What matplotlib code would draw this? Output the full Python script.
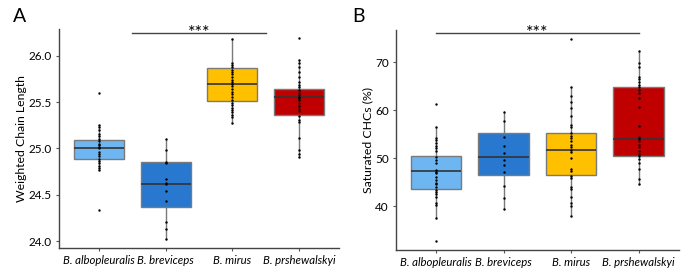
import matplotlib
matplotlib.use("Agg")
import matplotlib.pyplot as plt

plt.rcParams['font.family'] = ['Lato', 'DejaVu Sans']

species = ["B. albopleuralis", "B. breviceps", "B. mirus", "B. prshewalskyi"]
colors = ["#6DB6F2", "#2878CF", "#FFC000", "#C00000"]

# panel A: weighted chain length, individual samples
wcl_albo = [25.60, 25.25, 25.23, 25.20, 25.16, 25.13, 25.10, 25.08, 25.05, 25.04, 25.02,
            25.00, 24.96, 24.94, 24.92, 24.89, 24.86, 24.84, 24.81, 24.79, 24.77, 24.34]
wcl_brev = [25.10, 24.98, 24.85, 24.84, 24.67, 24.63, 24.62, 24.54, 24.43, 24.21, 24.13, 24.02]
wcl_mirus = [26.18, 25.92, 25.90, 25.88, 25.85, 25.83, 25.80, 25.77, 25.74, 25.72, 25.70, 25.67,
             25.64, 25.61, 25.59, 25.56, 25.52, 25.49, 25.47, 25.44, 25.41, 25.39, 25.36, 25.34, 25.28]
wcl_prsh = [26.19, 25.96, 25.92, 25.88, 25.83, 25.77, 25.72, 25.68, 25.66, 25.63, 25.60, 25.58,
            25.56, 25.54, 25.52, 25.49, 25.46, 25.43, 25.40, 25.35, 25.31, 25.29, 25.11, 24.98,
            24.94, 24.91]
# box summaries: whisker low, q1, median, q3, whisker high
wcl_box = [
    [24.77, 24.89, 25.01, 25.09, 25.25],
    [24.02, 24.37, 24.62, 24.85, 25.10],
    [25.28, 25.51, 25.70, 25.87, 26.18],
    [24.91, 25.36, 25.56, 25.64, 25.96],
]

# panel B: saturated CHCs (%)
sat_albo = [61.3, 56.6, 54.2, 53.8, 53.1, 52.6, 52.1, 51.6, 50.3, 49.7, 49.1, 47.6, 47.2, 46.9,
            46.2, 45.5, 44.9, 44.7, 44.1, 43.4, 42.9, 42.6, 42.0, 40.6, 40.3, 37.6, 32.8]
sat_brev = [59.7, 57.8, 54.5, 52.6, 51.2, 49.7, 48.6, 47.2, 44.3, 41.7, 39.4]
sat_mirus = [74.8, 64.9, 62.9, 61.8, 60.4, 58.8, 56.9, 56.5, 55.2, 54.7, 54.2, 53.5, 52.8, 52.3,
             51.7, 51.4, 50.0, 47.7, 47.4, 46.3, 45.8, 44.1, 43.5, 42.0, 40.6, 40.1, 38.0]
sat_prsh = [72.4, 69.8, 69.0, 67.0, 66.5, 65.8, 65.3, 64.8, 64.2, 63.5, 62.5, 60.6, 56.7, 54.4,
            54.0, 53.5, 52.8, 52.3, 51.6, 50.9, 50.5, 49.8, 49.1, 47.7, 45.6, 44.7]
sat_box = [
    [37.6, 43.7, 47.4, 50.4, 56.6],
    [39.4, 46.5, 50.3, 55.2, 59.7],
    [38.0, 46.5, 51.7, 55.2, 64.9],
    [44.7, 50.5, 54.1, 64.8, 72.4],
]

wcl_ticks = [24.0, 24.5, 25.0, 25.5, 26.0]
sat_ticks = [40, 50, 60, 70]


def panel(ax, points, boxes, ylabel, ylim, yticks, fmt, sig_span, sig_y):
    stats = []
    for b in boxes:
        stats.append(dict(whislo=b[0], q1=b[1], med=b[2], q3=b[3], whishi=b[4], fliers=[]))
    pos = [1, 2, 3, 4]
    bp = ax.bxp(stats, positions=pos, widths=0.75, patch_artist=True, showcaps=False,
                showfliers=False,
                boxprops=dict(edgecolor="#7a7a7a", linewidth=1.0),
                whiskerprops=dict(color="#7a7a7a", linewidth=1.0),
                medianprops=dict(color="#333333", linewidth=1.2), zorder=1)
    for patch, c in zip(bp["boxes"], colors):
        patch.set_facecolor(c)
    for i, vals in enumerate(points):
        ax.scatter([pos[i]] * len(vals), vals, s=3, color="black", zorder=3, linewidths=0)

    ax.set_xlim(0.4, 4.6)
    ax.set_ylim(*ylim)
    ax.set_yticks(yticks)
    ax.set_yticklabels([fmt.format(t) for t in yticks], fontsize=8.5)
    ax.set_xticks(pos)
    ax.set_xticklabels(species, fontsize=8.2, style="italic")
    ax.set_ylabel(ylabel, fontsize=8.8, labelpad=1.5)
    for s in ["top", "right"]:
        ax.spines[s].set_visible(False)
    for s in ["left", "bottom"]:
        ax.spines[s].set_color("#444444")
        ax.spines[s].set_linewidth(1.0)
    ax.tick_params(axis="both", colors="#555555", length=2.5, width=0.8, labelcolor="black",
                   pad=2.5)

    ax.plot(sig_span, [sig_y, sig_y], color="#444444", linewidth=1.0, clip_on=False)
    ax.annotate("***", xy=(sum(sig_span) / 2, sig_y), xytext=(0, -4), textcoords="offset points",
                ha="center", va="baseline", fontsize=13, annotation_clip=False)


fig = plt.figure(figsize=(6.85, 2.77), dpi=100)
axA = fig.add_axes([0.0861, 0.1047, 0.409, 0.7906])
axB = fig.add_axes([0.5777, 0.0975, 0.4136, 0.794])

panel(axA, [wcl_albo, wcl_brev, wcl_mirus, wcl_prsh], wcl_box, "Weighted Chain Length",
      (23.925, 26.29), wcl_ticks, "{:.1f}", (1.5, 3.5), 26.25)
panel(axB, [sat_albo, sat_brev, sat_mirus, sat_prsh], sat_box, "Saturated CHCs (%)",
      (30.9, 76.7), sat_ticks, "{:.0f}", (1, 4), 76.1)

fig.text(13 / 685, 1 - 17 / 277, "A", fontsize=14, ha="left", va="center")
fig.text(352 / 685, 1 - 17 / 277, "B", fontsize=14, ha="left", va="center")

fig.savefig("out.png", dpi=100)
